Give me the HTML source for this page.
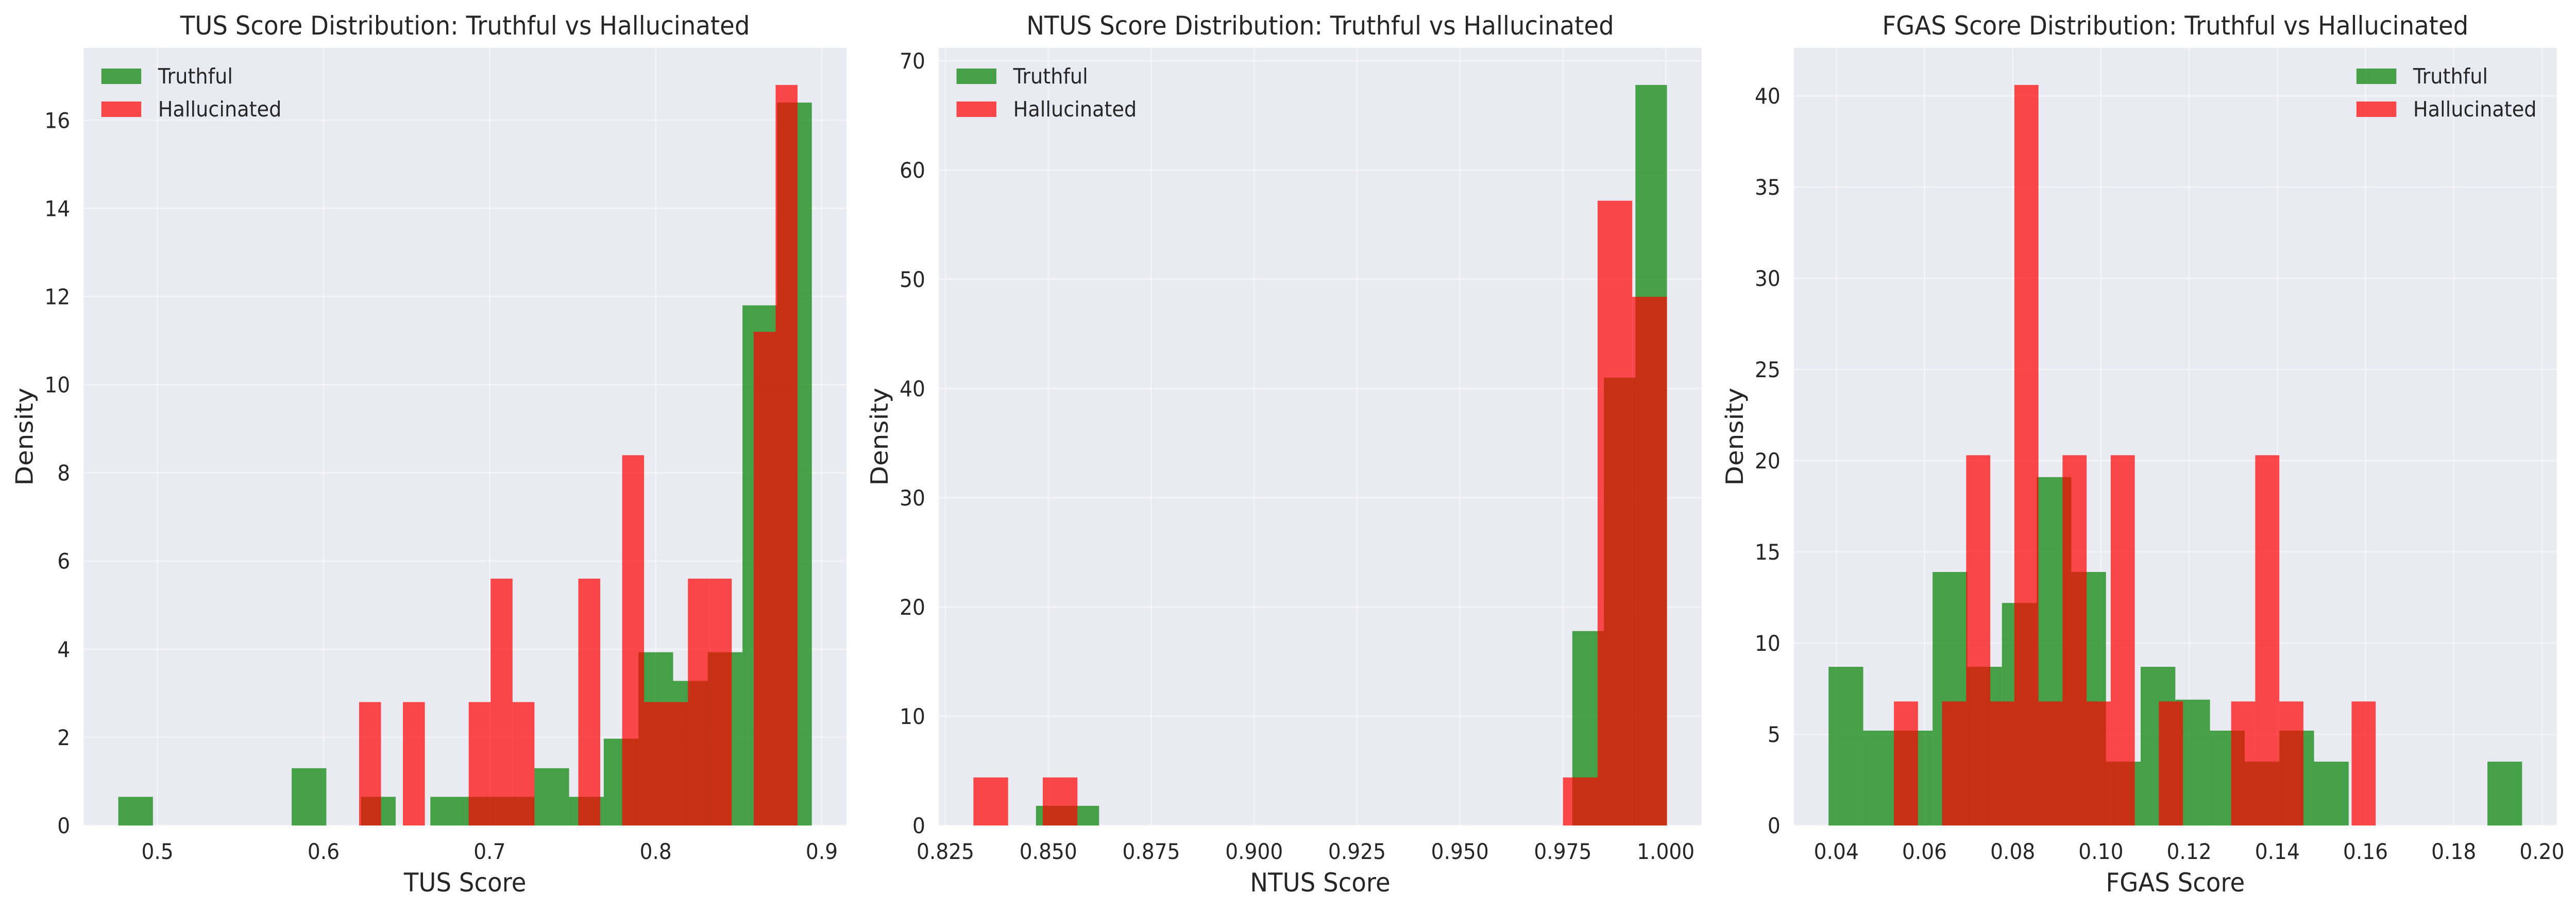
<!DOCTYPE html>
<html><head><meta charset="utf-8"><style>
html,body{margin:0;padding:0;background:#fff;width:100%;height:100%;overflow:hidden;}
svg{display:block;position:absolute;left:0;top:0;width:100vw;height:100vh;}
svg text{font-family:"DejaVu Sans","Liberation Sans",sans-serif;fill:#262626;}
</style></head><body>
<svg id="c" viewBox="0 0 5362 1766" preserveAspectRatio="none" xmlns="http://www.w3.org/2000/svg"></svg>
<script>
// Panel 1: TUS
const tusTruthRange = [0.4764, 0.894];
const tusTruthful = [0.65,0,0,0,0,1.3,0,0.65,0,0.65,0.65,0.65,1.3,0.65,1.97,3.93,3.28,3.93,11.8,16.4];
const tusHallRange = [0.6214, 0.8854];
const tusHallucinated = [2.8,0,2.8,0,0,2.8,5.6,2.8,0,0,5.6,0,8.4,2.8,2.8,5.6,5.6,0,11.2,16.8];
const tusXTicks = [0.5,0.6,0.7,0.8,0.9];
const tusXTickLabels = ["0.5","0.6","0.7","0.8","0.9"];
const tusYTicks = [0,2,4,6,8,10,12,14,16];
// Panel 2: NTUS
const ntusTruthRange = [0.847, 1.0003];
const ntusTruthful = [1.8,1.8,0,0,0,0,0,0,0,0,0,0,0,0,0,0,0,17.8,41.0,67.8];
const ntusHallRange = [0.8318, 1.0003];
const ntusHallucinated = [4.4,0,4.4,0,0,0,0,0,0,0,0,0,0,0,0,0,0,4.4,57.2,48.4];
const ntusXTicks = [0.825,0.85,0.875,0.9,0.925,0.95,0.975,1.0];
const ntusXTickLabels = ["0.825","0.850","0.875","0.900","0.925","0.950","0.975","1.000"];
const ntusYTicks = [0,10,20,30,40,50,60,70];
// Panel 3: FGAS
const fgasTruthRange = [0.03824, 0.1955];
const fgasTruthful = [8.7,5.2,5.2,13.9,8.7,12.2,19.1,13.9,3.5,8.7,6.9,5.2,3.5,5.2,3.5,0,0,0,0,3.5];
const fgasHallRange = [0.05306, 0.1623];
const fgasHallucinated = [6.8,0,6.8,20.3,6.8,40.6,6.8,20.3,6.8,20.3,0,6.8,0,0,6.8,20.3,6.8,0,0,6.8];
const fgasXTicks = [0.04,0.06,0.08,0.10,0.12,0.14,0.16,0.18,0.20];
const fgasXTickLabels = ["0.04","0.06","0.08","0.10","0.12","0.14","0.16","0.18","0.20"];
const fgasYTicks = [0,5,10,15,20,25,30,35,40];

const svg = document.getElementById('c');
const NS = 'http://www.w3.org/2000/svg';
function mk(tag, attrs, parent){const e=document.createElementNS(NS,tag);for(const k in attrs)e.setAttribute(k,attrs[k]);(parent||svg).appendChild(e);return e;}

function panel(p){
  const L=p.left, R=p.left+1588, T=93, B=1602;
  const g=mk('g',{});
  
  
  const bg=mk('rect',{x:L,y:T,width:R-L,height:B-T,fill:'#eaeaf2'},g);
  
  
  const allMax=Math.max(...p.truth,...p.hall)*1.05;
  const lo=Math.min(p.tr[0],p.hr[0]), hi=Math.max(p.tr[1],p.hr[1]);
  const pad=(hi-lo)*0.05;
  const xmin=lo-pad, xmax=hi+pad;
  const X=v=>L+(v-xmin)/(xmax-xmin)*(R-L);
  const Y=v=>B-v/allMax*(B-T);
  p.xt.forEach((t,i)=>{
    const gl=mk('line',{x1:X(t),x2:X(t),y1:T,y2:B,stroke:'#ffffff','stroke-opacity':0.45,'stroke-width':3},g);
    
    
    const tl=mk('text',{x:X(t),y:1667,'font-size':42,'text-anchor':'middle'},g);
    tl.textContent=p.xl[i];
    
    
  });
  p.yt.forEach(t=>{
    const gl=mk('line',{x1:L,x2:R,y1:Y(t),y2:Y(t),stroke:'#ffffff','stroke-opacity':0.45,'stroke-width':3},g);
    
    
    const tl=mk('text',{x:L-28,y:Y(t)+15,'font-size':42,'text-anchor':'end'},g);
    tl.textContent=String(t);
    
    
  });
  function bars(vals,rng,color,name){
    const w=(rng[1]-rng[0])/vals.length;
    vals.forEach((v,i)=>{
      if(v<=0)return;
      const x0=X(rng[0]+i*w), x1=X(rng[0]+(i+1)*w);
      const r=mk('rect',{x:x0,y:Y(v),width:x1-x0,height:B-Y(v),fill:color,'fill-opacity':0.7},g);
      
      
    });
  }
  bars(p.truth,p.tr,'#008000','truthful');
  bars(p.hall,p.hr,'#ff0000','hallucinated');
  const ti=mk('text',{x:(L+R)/2,y:67,'font-size':50,'text-anchor':'middle'},g);
  ti.textContent=p.title;
  
  
  const xl=mk('text',{x:(L+R)/2,y:1730,'font-size':50,'text-anchor':'middle'},g);
  xl.textContent=p.xlabel;
  
  
  const yl=mk('text',{x:0,y:0,'font-size':50,'text-anchor':'middle',transform:`translate(${L-106},${(T+B)/2}) rotate(-90)`},g);
  yl.textContent='Density';
  
  
  const lx=p.legendX;
  [['Truthful','#008000',148],['Hallucinated','#ff0000',212]].forEach(([n,c,yc])=>{
    const sw=mk('rect',{x:lx,y:yc-15,width:83,height:30,fill:c,'fill-opacity':0.7},g);
    
    
    const lt=mk('text',{x:lx+118,y:yc+14,'font-size':41},g);
    lt.textContent=n;
    
    
  });
}
panel({key:'tus',left:174,truth:tusTruthful,tr:tusTruthRange,hall:tusHallucinated,hr:tusHallRange,xt:tusXTicks,xl:tusXTickLabels,yt:tusYTicks,title:'TUS Score Distribution: Truthful vs Hallucinated',xlabel:'TUS Score',legendX:211});
panel({key:'ntus',left:1954,truth:ntusTruthful,tr:ntusTruthRange,hall:ntusHallucinated,hr:ntusHallRange,xt:ntusXTicks,xl:ntusXTickLabels,yt:ntusYTicks,title:'NTUS Score Distribution: Truthful vs Hallucinated',xlabel:'NTUS Score',legendX:1991});
panel({key:'fgas',left:3734,truth:fgasTruthful,tr:fgasTruthRange,hall:fgasHallucinated,hr:fgasHallRange,xt:fgasXTicks,xl:fgasXTickLabels,yt:fgasYTicks,title:'FGAS Score Distribution: Truthful vs Hallucinated',xlabel:'FGAS Score',legendX:4905});
</script>
</body></html>
